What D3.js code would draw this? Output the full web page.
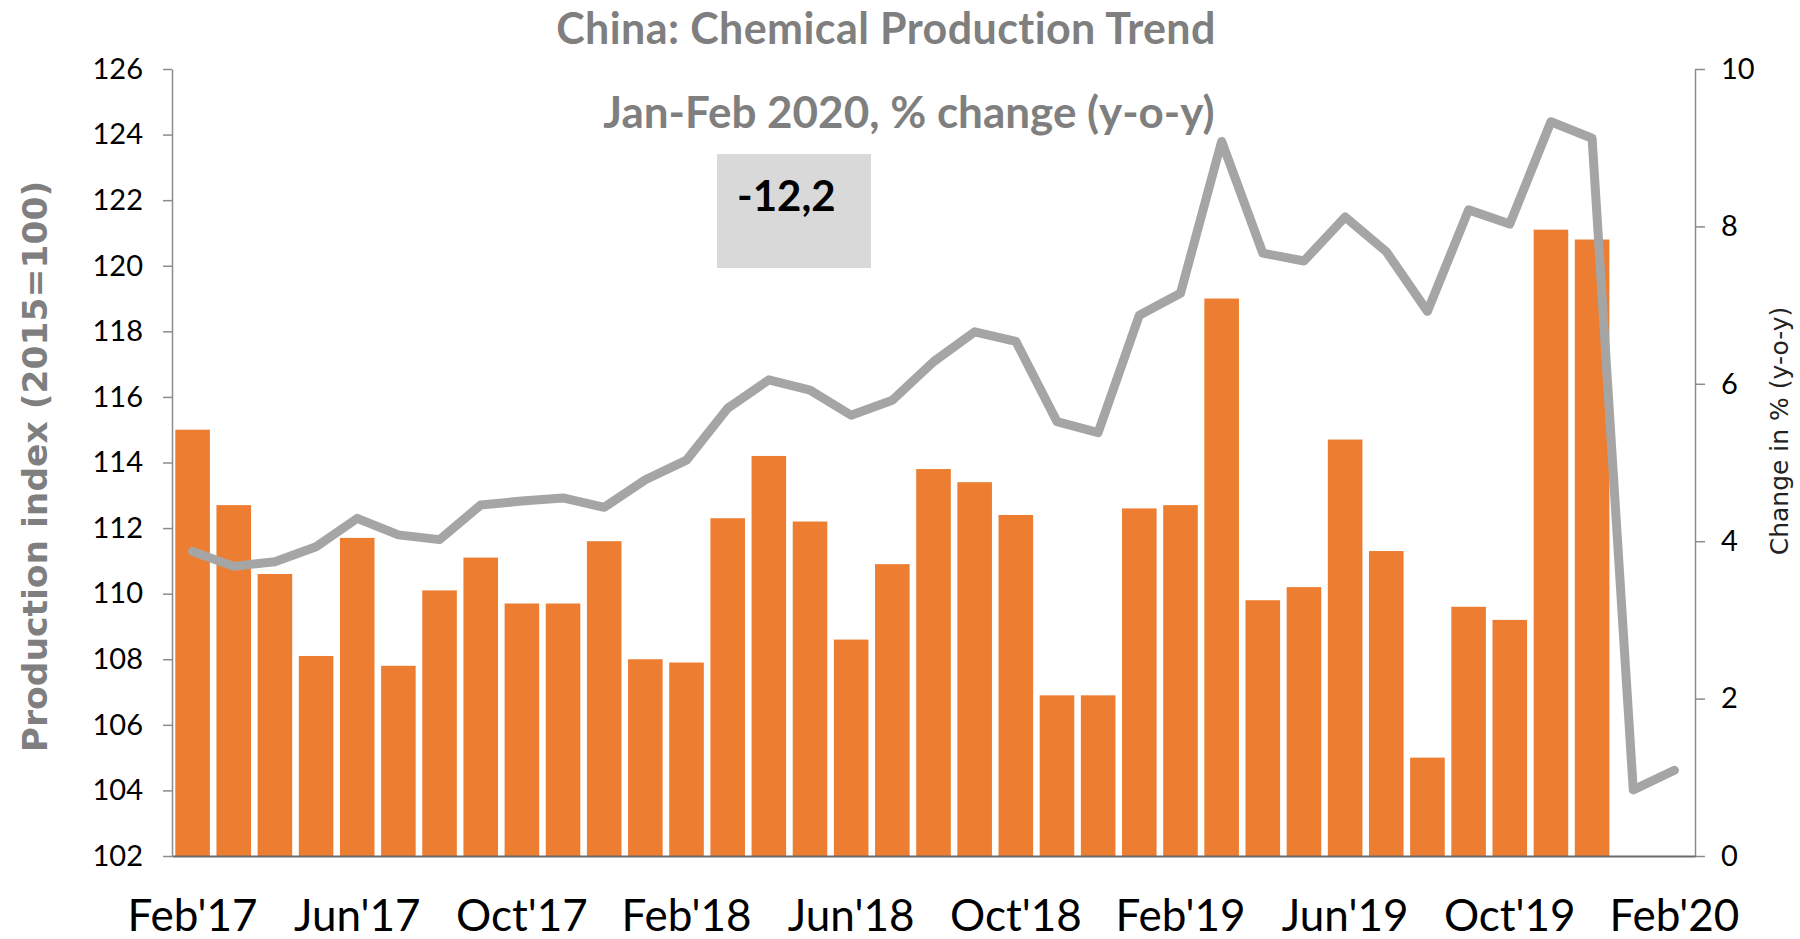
<!DOCTYPE html>
<html>
<head>
    <meta charset='utf-8'>
    <title>China: Chemical Production Trend</title>
    <style>
    body {
      margin: 0;
      background: #fff;
    }
    svg {
      display: block;
    }
    </style>
    <script src='https://d3js.org/d3.v7.min.js'></script>
</head>
<body>
<div id="container"></div>
<script>
// ******* Data *******
const months = [
  "Feb'17", "Mar'17", "Apr'17", "May'17", "Jun'17", "Jul'17", "Aug'17", "Sep'17",
  "Oct'17", "Nov'17", "Dec'17", "Jan'18", "Feb'18", "Mar'18", "Apr'18", "May'18",
  "Jun'18", "Jul'18", "Aug'18", "Sep'18", "Oct'18", "Nov'18", "Dec'18", "Jan'19",
  "Feb'19", "Mar'19", "Apr'19", "May'19", "Jun'19", "Jul'19", "Aug'19", "Sep'19",
  "Oct'19", "Nov'19", "Dec'19", "Jan'20", "Feb'20"
];

// production index (2015=100), left axis -- no bars for Jan/Feb'20
const productionIndex = [
  115.0, 112.7, 110.6, 108.1, 111.7, 107.8, 110.1, 111.1, 109.7, 109.7,
  111.6, 108.0, 107.9, 112.3, 114.2, 112.2, 108.6, 110.9, 113.8, 113.4,
  112.4, 106.9, 106.9, 112.6, 112.7, 119.0, 109.8, 110.2, 114.7, 111.3,
  105.0, 109.6, 109.2, 121.1, 120.8
];

// change in % (y-o-y), right axis
const yoyChange = [
  3.87, 3.68, 3.74, 3.93, 4.29, 4.08, 4.02, 4.46, 4.51, 4.55,
  4.43, 4.78, 5.03, 5.69, 6.05, 5.92, 5.60, 5.79, 6.28, 6.66,
  6.54, 5.52, 5.38, 6.87, 7.15, 9.08, 7.66, 7.56, 8.12, 7.68,
  6.92, 8.21, 8.03, 9.33, 9.12, 0.84, 1.09
];

const xTickLabels = ["Feb'17", "Jun'17", "Oct'17", "Feb'18", "Jun'18", "Oct'18",
                     "Feb'19", "Jun'19", "Oct'19", "Feb'20"];
const leftTicks = [102, 104, 106, 108, 110, 112, 114, 116, 118, 120, 122, 124, 126];
const rightTicks = [0, 2, 4, 6, 8, 10];

const title = "China: Chemical Production Trend";
const subtitle = "Jan-Feb 2020, % change (y-o-y)";
const highlight = "-12,2";

// ******* Constants *******
const W = 1800,
      H = 939;
const margin = {top: 69, right: 105, bottom: 83, left: 172};
const width = W - margin.left - margin.right,
      height = H - margin.top - margin.bottom;

const barColor = "#ed7d31",
      lineColor = "#a5a5a5",
      greyText = "#7f7f7f",
      axisColor = "#8c8c8c";

// ******* Scales *******
var x = d3.scaleBand()
    .domain(months)
    .range([0, width])
    .paddingInner(0.16)
    .paddingOuter(0.08);

var yLeft = d3.scaleLinear()
    .domain([102, 126])
    .range([height, 0]);

var yRight = d3.scaleLinear()
    .domain([0, 10])
    .range([height, 0]);

// ******* SVG *******
var svg = d3.select("#container").append("svg")
    .attr("width", W)
    .attr("height", H);

var g = svg.append("g")
    .attr("transform", "translate(" + margin.left + "," + margin.top + ")");

// bars
g.selectAll("rect.bar")
    .data(productionIndex)
    .enter()
    .append("rect")
    .attr("class", "bar")
    .attr("x", function(d, i) {return x(months[i])})
    .attr("y", function(d) {return yLeft(d)})
    .attr("width", x.bandwidth())
    .attr("height", function(d) {return height - yLeft(d)})
    .attr("fill", barColor);

// left axis
var axL = g.append("g")
    .call(d3.axisLeft(yLeft).tickValues(leftTicks).tickSize(9).tickSizeOuter(0).tickPadding(20));
axL.select(".domain").attr("stroke", axisColor).attr("stroke-width", 1.5);
axL.selectAll(".tick line").attr("stroke", axisColor).attr("stroke-width", 1.5);
axL.selectAll(".tick text")
    .attr("font-family", "Lato, sans-serif")
    .attr("font-size", 29)
    .attr("fill", "#000");

// right axis
var axR = g.append("g")
    .attr("transform", "translate(" + width + ",0)")
    .call(d3.axisRight(yRight).tickValues(rightTicks).tickSize(10).tickSizeOuter(0).tickPadding(16));
axR.select(".domain").attr("stroke", axisColor).attr("stroke-width", 1.5);
axR.selectAll(".tick line").attr("stroke", axisColor).attr("stroke-width", 1.5);
axR.selectAll(".tick text")
    .attr("font-family", "Lato, sans-serif")
    .attr("font-size", 29)
    .attr("fill", "#000");

// bottom axis (line only, labels every 4 months)
var axB = g.append("g")
    .attr("transform", "translate(0," + height + ")")
    .call(d3.axisBottom(x).tickValues(xTickLabels).tickSize(0).tickPadding(44));
axB.select(".domain").attr("stroke", "#6b6b6b").attr("stroke-width", 2);
axB.selectAll(".tick text")
    .attr("font-family", "Lato, sans-serif")
    .attr("font-size", 44)
    .attr("fill", "#000");

// y-o-y line
var line = d3.line()
    .x(function(d, i) {return x(months[i]) + x.bandwidth() / 2})
    .y(function(d) {return yRight(d)});

g.append("path")
    .datum(yoyChange)
    .attr("d", line)
    .attr("fill", "none")
    .attr("stroke", lineColor)
    .attr("stroke-width", 9)
    .attr("stroke-linejoin", "round")
    .attr("stroke-linecap", "round");

// ******* Titles *******
svg.append("text")
    .text(title)
    .attr("x", 886)
    .attr("y", 44)
    .attr("text-anchor", "middle")
    .attr("font-family", "Lato, sans-serif")
    .attr("font-weight", "bold")
    .attr("font-size", 43)
    .attr("letter-spacing", 0.4)
    .attr("fill", greyText);

svg.append("text")
    .text(subtitle)
    .attr("x", 909)
    .attr("y", 128)
    .attr("text-anchor", "middle")
    .attr("font-family", "Lato, sans-serif")
    .attr("font-weight", "bold")
    .attr("font-size", 44)
    .attr("fill", greyText);

// highlight box
svg.append("rect")
    .attr("x", 717)
    .attr("y", 154)
    .attr("width", 154)
    .attr("height", 114)
    .attr("fill", "#d9d9d9");

svg.append("text")
    .text(highlight)
    .attr("x", 737)
    .attr("y", 211)
    .attr("font-family", "Lato, sans-serif")
    .attr("font-weight", "bold")
    .attr("font-size", 42)
    .attr("fill", "#000");

// axis titles
svg.append("text")
    .text("Production index (2015=100)")
    .attr("transform", "translate(47," + (margin.top + height / 2 + 4) + ") rotate(-90)")
    .attr("text-anchor", "middle")
    .attr("font-family", "'DejaVu Sans', sans-serif")
    .attr("font-weight", "bold")
    .attr("font-size", 34.5)
    .attr("fill", greyText);

svg.append("text")
    .text("Change in % (y-o-y)")
    .attr("transform", "translate(1788,431) rotate(-90)")
    .attr("text-anchor", "middle")
    .attr("font-family", "'DejaVu Sans', sans-serif")
    .attr("font-size", 25)
    .attr("fill", "#222");
</script>
</body>
</html>
